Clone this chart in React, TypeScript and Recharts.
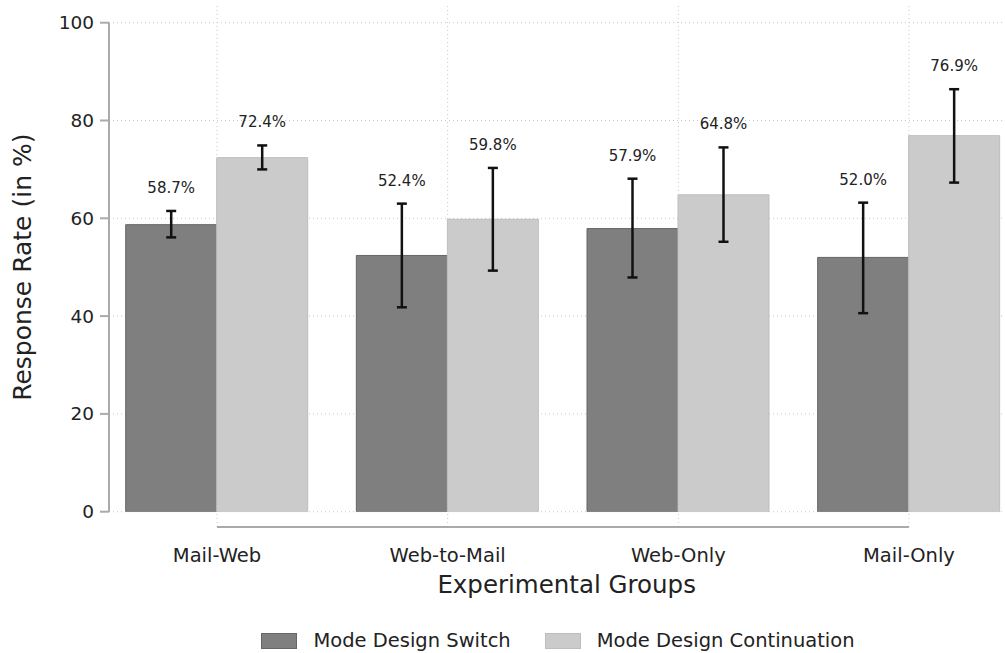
import React from "react";
import {
  BarChart,
  Bar,
  XAxis,
  YAxis,
  CartesianGrid,
  ErrorBar,
  LabelList,
  Legend,
  ReferenceLine,
} from "recharts";

const groups = ["Mail-Web", "Web-to-Mail", "Web-Only", "Mail-Only"];
const seriesNames = ["Mode Design Switch", "Mode Design Continuation"];

// Mode Design Switch
const switchRate = [58.7, 52.4, 57.9, 52.0];
const switchLow = [56.1, 41.8, 47.9, 40.6];
const switchHigh = [61.5, 63.0, 68.1, 63.2];

// Mode Design Continuation
const contRate = [72.4, 59.8, 64.8, 76.9];
const contLow = [70.0, 49.3, 55.2, 67.3];
const contHigh = [74.9, 70.3, 74.5, 86.4];

const yTicks = [0, 20, 40, 60, 80, 100];

const FONT = "'DejaVu Sans', Verdana, sans-serif";

const data = groups.map((g, i) => ({
  group: g,
  sw: switchRate[i],
  swErr: [switchRate[i] - switchLow[i], switchHigh[i] - switchRate[i]],
  ct: contRate[i],
  ctErr: [contRate[i] - contLow[i], contHigh[i] - contRate[i]],
}));

// label sits a fixed distance above the top of the CI whisker
const valueLabel = (highs: number[]) => (props: any) => {
  const { x, y, width, height, value, index } = props;
  const pxPerUnit = Number(height) / Number(value);
  const whiskerTop = Number(y) - (highs[index] - Number(value)) * pxPerUnit;
  return (
    <text
      x={Number(x) + Number(width) / 2}
      y={whiskerTop - 18}
      textAnchor="middle"
      fontSize={15}
      fontFamily={FONT}
      fill="#222"
    >
      {Number(value).toFixed(1)}%
    </text>
  );
};

const renderLegend = (props: any) => {
  const payload = [...(props.payload || [])].sort(
    (a: any, b: any) => seriesNames.indexOf(a.value) - seriesNames.indexOf(b.value)
  );
  return (
    <div
      style={{
        display: "flex",
        justifyContent: "center",
        alignItems: "center",
        height: 30,
        paddingLeft: 111,
        boxSizing: "border-box",
        fontFamily: FONT,
        fontSize: 19.5,
        lineHeight: "22px",
        color: "#222",
      }}
    >
      {payload.map((entry: any, i: number) => (
        <div
          key={entry.value}
          style={{ display: "flex", alignItems: "center", marginLeft: i > 0 ? 34 : 0 }}
        >
          <span
            style={{
              width: 36,
              height: 16,
              background: entry.color,
              border: `1px solid ${i === 0 ? "#666" : "#bdbdbd"}`,
              boxSizing: "border-box",
              marginRight: 16,
            }}
          />
          <span>{entry.value}</span>
        </div>
      ))}
    </div>
  );
};

export default function App() {
  return (
    <div
      style={{
        width: 1005,
        height: 653,
        position: "fixed",
        top: 0,
        left: 0,
        overflow: "hidden",
        background: "#fff",
      }}
    >
      <BarChart
        width={1030}
        height={653}
        data={data}
        margin={{ top: 22.7, right: 5.7, left: 0, bottom: 0 }}
        barCategoryGap={24}
        barGap={0}
        style={{ fontFamily: FONT }}
      >
        <CartesianGrid
          horizontal={true}
          vertical={false}
          stroke="#c8c8c8"
          strokeDasharray="1 3"
        />
        <XAxis
          dataKey="group"
          axisLine={false}
          tickLine={false}
          tickSize={0}
          tickMargin={36}
          height={111.3}
          padding={{ left: -7.3, right: 0 }}
          tick={{ fontSize: 19.5, fill: "#222", fontFamily: FONT }}
          label={{
            value: "Experimental Groups",
            position: "insideBottom",
            offset: 30.3,
            fontSize: 24.5,
            fill: "#222",
            fontFamily: FONT,
          }}
        />
        <YAxis
          width={109}
          domain={[0, 100]}
          ticks={yTicks}
          allowDataOverflow
          tickSize={9}
          tickMargin={6}
          axisLine={{ stroke: "#aaa", strokeWidth: 2 }}
          tickLine={{ stroke: "#aaa", strokeWidth: 2 }}
          tick={{ fontSize: 18.5, fill: "#222", fontFamily: FONT }}
          label={{
            value: "Response Rate (in %)",
            angle: -90,
            position: "insideLeft",
            offset: 22.5,
            fontSize: 25,
            fill: "#222",
            fontFamily: FONT,
            style: { textAnchor: "middle" },
          }}
        />
        {groups.map((g) => (
          <ReferenceLine
            key={g}
            segment={[
              { x: g, y: -3.13 },
              { x: g, y: 103.6 },
            ]}
            stroke="#c8c8c8"
            strokeDasharray="1 3"
            ifOverflow="visible"
          />
        ))}
        <ReferenceLine
          segment={[
            { x: groups[0], y: -3.13 },
            { x: groups[groups.length - 1], y: -3.13 },
          ]}
          stroke="#aaa"
          strokeWidth={2}
          ifOverflow="visible"
        />
        <Legend
          verticalAlign="bottom"
          content={renderLegend}
          wrapperStyle={{ left: 0, width: 1005, top: 626, bottom: "auto", height: 30 }}
        />
        <Bar
          dataKey="sw"
          name={seriesNames[0]}
          fill="#7f7f7f"
          stroke="#666"
          strokeWidth={1}
          isAnimationActive={false}
        >
          <ErrorBar dataKey="swErr" width={5} strokeWidth={2.5} stroke="#111" />
          <LabelList dataKey="sw" content={valueLabel(switchHigh)} />
        </Bar>
        <Bar
          dataKey="ct"
          name={seriesNames[1]}
          fill="#cbcbcb"
          stroke="#bdbdbd"
          strokeWidth={1}
          isAnimationActive={false}
        >
          <ErrorBar dataKey="ctErr" width={5} strokeWidth={2.5} stroke="#111" />
          <LabelList dataKey="ct" content={valueLabel(contHigh)} />
        </Bar>
      </BarChart>
    </div>
  );
}
